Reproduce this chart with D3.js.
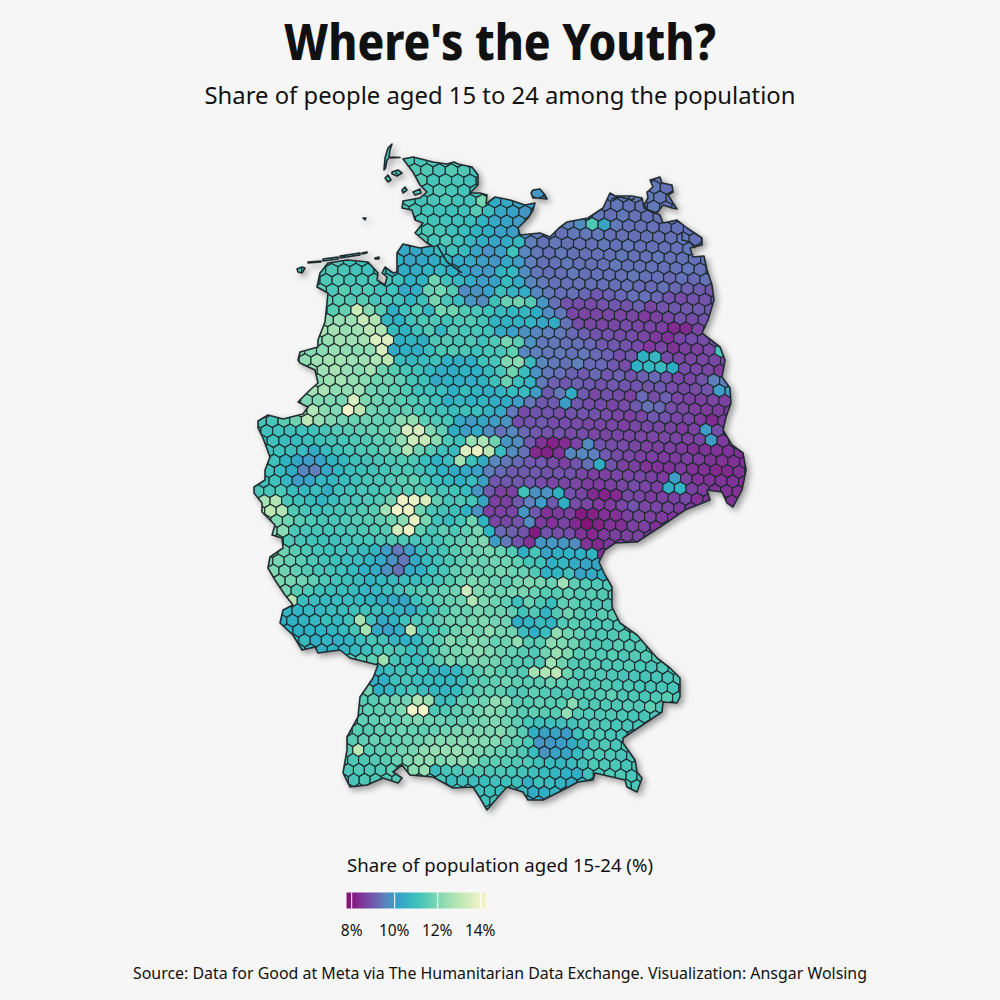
<!DOCTYPE html>
<html>
<head>
<meta charset="utf-8">
<title>Where's the Youth?</title>
<script src="https://cdnjs.cloudflare.com/ajax/libs/d3/7.8.5/d3.min.js"></script>
<style>
  body { margin: 0; background: #f6f6f6; }
  text { font-family: "Noto Sans", sans-serif; fill: #111; }
</style>
</head>
<body>
<div id="chart"></div>
<script>
// first grid column of every hex row
const rowStart = [-9,-8,-8,-7,-9,-9,-8,-8,-9,-9,-16,-16,-16,-15,-16,-15,-16,-16,-16,-18,-18,-16,-17,-17,-18,-18,-22,-22,-22,-21,-21,-21,-22,-22,-22,-22,-21,-20,-21,-20,-21,-21,-21,-21,-20,-20,-21,-20,-19,-18,-14,-12,-13,-13,-14,-14,-14,-14,-15,-15,-15,-15,-15,-3,-3,-2];

// share of people aged 15-24 (%), one list per hex row, north to south
const hexRows = [
[11.3,11.3,11.2,11.3,11.4,11.3,11.2],
[11.3,11.4,11.3,11.2,11.4,11.3,11.1],
[11.3,11.5,11.2,11.3,11.2,11.1,11.0],
[11.3,11.2,11.3,11.2,11.1,11.0,10.8,10.5,10.2,10.0,9.9,9.8,9.4,9.4,9.4,9.4,9.4,9.4,9.4,9.4,9.4,9.4,9.4],
[11.2,11.3,11.1,11.2,11.3,11.1,11.1,11.9,10.4,10.3,10.2,10.0,9.8,9.5,9.4,9.4,9.4,9.3,9.4,9.3,9.3,9.4,9.3,9.3],
[11.2,11.2,11.2,11.1,11.0,11.0,11.0,11.5,10.9,10.3,10.1,9.9,9.8,9.5,9.4,9.4,9.4,9.4,9.3,9.4,9.3,9.3,9.3,9.3,9.3],
[11.1,11.2,11.1,11.1,11.0,10.9,10.6,10.3,10.2,10.0,9.6,9.4,9.4,9.5,9.7,11.3,10.2,9.4,9.3,9.3,9.3,9.3,9.3,9.3],
[11.2,11.2,11.3,11.2,11.0,10.9,10.6,10.4,10.1,10.0,9.8,9.4,9.4,9.3,9.4,9.4,9.4,9.3,9.3,9.3,9.3,9.3,9.3,9.4,9.3],
[11.2,11.1,11.3,11.2,11.3,11.0,10.7,10.4,10.2,10.4,10.7,9.5,9.3,9.4,9.3,9.3,9.3,9.4,9.3,9.4,9.3,9.3,9.3,9.3,9.4,9.3,9.3],
[10.3,10.3,10.2,10.4,10.9,11.1,10.8,10.2,9.8,10.1,11.0,9.6,9.4,9.3,9.4,9.3,9.3,9.3,9.3,9.4,9.3,9.3,9.4,9.3,9.3,9.3,9.3],
[11.3,11.2,11.3,11.1,11.0,11.2,11.3,10.5,10.2,10.2,10.4,10.6,10.4,10.3,10.0,9.9,10.3,10.0,9.5,9.3,9.3,9.4,9.3,9.3,9.3,9.4,9.3,9.3,9.3,9.3,9.3,9.4,9.3,9.3],
[11.2,11.2,11.3,11.2,11.1,11.0,11.1,10.7,10.4,10.4,10.6,10.7,10.5,10.2,10.0,9.9,10.6,10.7,9.7,9.4,9.3,9.3,9.4,9.3,9.3,9.3,9.3,9.4,9.3,9.3,9.2,9.3,9.2,9.3,9.3],
[11.2,11.3,11.4,11.2,11.2,11.3,11.2,11.0,10.5,10.6,11.8,11.0,10.7,10.4,10.0,10.1,10.8,10.3,9.6,9.4,9.3,9.3,9.3,9.3,9.3,9.3,9.3,9.2,9.2,9.3,9.2,9.1,9.0,8.9],
[11.6,11.3,11.5,11.3,11.4,11.1,11.0,10.3,10.4,11.7,11.9,11.4,9.7,9.8,10.1,10.9,10.6,10.4,9.6,9.4,9.3,9.3,9.2,9.0,9.1,9.2,9.3,9.3,9.2,8.9,8.8,8.9,8.9,9.0],
[11.8,11.6,11.5,11.4,11.5,11.2,11.2,11.0,10.6,11.0,11.9,11.2,10.8,9.9,9.7,11.0,11.7,11.8,11.4,9.9,9.3,8.9,8.8,8.8,8.9,9.0,8.9,9.1,8.7,8.9,9.0,9.0,9.0,9.0,9.0],
[11.6,11.5,11.7,13.3,12.1,11.5,10.4,11.0,11.4,10.7,11.9,11.8,11.4,11.2,11.0,10.8,10.7,10.7,10.4,9.7,9.4,8.7,8.7,8.7,8.7,8.7,8.7,8.5,8.6,8.7,8.9,8.8,8.9,8.9],
[12.2,12.3,12.4,12.5,13.2,12.8,10.6,10.5,11.1,11.3,11.3,11.1,11.3,11.4,11.1,10.6,10.6,10.5,10.6,10.2,10.4,9.3,8.8,8.7,8.7,8.7,8.8,8.7,8.7,8.6,8.3,8.3,8.7,8.7,8.7],
[12.4,12.6,12.6,12.4,12.5,13.0,12.8,10.8,10.6,11.0,11.4,10.7,11.4,11.2,11.2,11.0,10.4,10.2,9.8,9.6,9.5,9.4,9.2,9.1,8.9,8.9,8.8,8.8,8.7,8.5,8.4,8.7,8.8,8.8,8.8],
[12.3,12.4,12.6,12.5,12.6,13.6,13.6,10.4,10.6,10.4,11.3,11.4,11.2,11.3,11.0,11.3,11.9,11.5,9.8,9.4,9.4,9.3,9.3,9.2,9.0,9.0,8.9,8.8,8.5,8.7,8.4,8.6,8.6,8.7],
[12.0,12.0,12.1,12.2,12.4,12.3,12.2,12.3,13.5,10.3,10.5,10.4,10.9,11.3,11.4,11.3,11.0,11.2,11.2,11.6,9.6,9.5,9.4,9.4,9.3,9.4,9.2,9.1,8.8,9.0,10.5,10.7,8.8,8.7,8.7,8.7,8.7,8.7],
[12.2,12.3,12.5,12.6,12.6,12.5,12.5,12.7,13.0,10.9,10.7,10.8,11.0,10.5,10.4,10.4,11.0,11.2,12.0,12.1,10.8,9.6,9.4,9.3,9.5,9.2,9.2,9.0,8.8,10.5,10.7,10.8,10.4,8.8,8.7,8.7,8.5,8.5],
[12.4,12.5,12.7,12.4,12.2,12.6,11.8,11.5,11.2,11.0,10.7,10.4,10.4,10.6,10.5,10.8,11.2,11.8,10.9,9.8,9.4,9.3,9.1,9.0,9.2,9.0,9.1,8.9,9.1,9.2,8.9,8.7,8.7,8.9,9.5,9.5],
[12.2,12.2,12.5,12.6,12.4,12.2,11.8,11.8,11.6,11.2,11.0,10.3,10.5,10.4,10.4,10.6,11.0,11.7,10.9,10.6,9.4,9.1,9.0,9.1,9.0,8.9,9.0,8.9,8.9,8.9,9.0,8.8,8.7,8.8,8.9,10.0,10.0],
[12.6,12.6,12.7,12.3,12.3,12.5,11.8,11.8,11.6,11.4,11.0,11.0,10.9,10.5,10.8,10.6,10.4,10.6,10.8,10.8,10.0,9.0,9.4,10.4,9.0,8.7,8.9,8.8,8.6,9.2,8.8,9.1,8.7,8.6,8.6,8.7,8.6,8.6],
[12.0,12.0,12.0,12.0,11.9,13.5,12.0,11.8,11.7,11.5,11.4,11.3,11.0,10.4,10.7,10.5,10.6,10.4,10.4,10.0,9.4,9.0,9.0,10.0,9.0,8.8,8.8,8.7,8.8,9.0,9.3,9.2,8.8,8.7,8.6,8.5,8.5,8.5,8.5],
[12.5,12.7,12.8,12.2,12.0,14.0,13.0,11.8,11.7,11.6,11.6,11.3,11.2,11.0,10.8,11.0,10.9,10.6,10.3,9.4,8.8,8.9,8.9,8.8,8.9,8.9,8.9,8.8,8.7,8.6,8.7,9.0,8.9,8.7,8.7,8.5,8.3,8.5,8.5],
[11.2,11.2,11.2,11.5,11.8,13.0,12.4,12.0,11.8,11.7,11.8,11.7,11.6,12.2,12.4,11.6,11.3,11.2,10.3,10.0,10.2,10.0,9.8,8.8,8.9,9.0,8.8,8.8,8.8,8.7,8.7,8.7,8.6,8.7,8.7,8.7,8.6,8.5,8.6,10.0,8.8,8.4],
[11.0,11.0,11.0,11.0,11.0,11.0,11.0,11.2,11.4,11.5,11.6,11.7,11.7,11.9,13.5,13.5,12.0,11.6,10.4,10.0,10.3,9.7,9.3,9.6,9.2,9.0,8.9,8.9,8.8,8.8,8.7,8.7,8.7,8.7,8.7,8.7,8.7,8.7,8.6,8.7,10.0,8.5,8.5],
[11.0,11.0,11.0,10.9,10.8,10.9,11.0,11.1,11.2,11.3,11.4,11.6,11.6,12.3,13.3,13.2,12.2,11.3,11.0,12.4,12.7,11.8,9.9,9.7,9.0,8.4,8.2,8.3,8.7,9.7,8.9,8.8,8.8,8.7,8.6,8.6,8.6,8.5,8.4,8.4,8.4,8.4,8.4],
[11.0,11.0,11.0,10.9,10.8,10.4,10.8,11.0,11.2,11.3,11.4,11.6,11.7,12.8,11.8,11.5,11.0,10.8,13.6,13.8,13.0,10.8,9.7,9.3,8.3,8.2,8.4,9.6,9.6,9.5,9.0,8.8,8.7,8.6,8.6,8.5,8.5,8.6,8.5,8.4,8.4,8.4,8.4],
[11.0,11.0,10.6,10.2,10.0,10.2,10.6,10.7,11.0,11.1,11.2,11.3,11.4,11.3,10.9,10.5,10.9,12.6,11.0,10.4,9.6,9.4,9.2,9.0,9.0,8.8,8.6,8.9,9.3,10.4,8.9,8.6,8.6,8.4,8.4,8.4,8.5,8.4,8.4,8.3,8.3,8.4,8.4],
[11.0,11.0,10.8,10.4,9.6,9.5,10.3,10.6,10.9,11.0,11.1,11.2,11.3,11.3,11.1,10.9,10.5,10.4,10.3,10.1,9.5,9.2,9.0,9.0,9.0,8.9,8.9,8.9,8.7,8.6,8.6,8.7,8.7,8.7,8.6,8.5,10.0,8.6,8.4,8.4,8.4,8.4,8.4,8.4],
[11.0,11.0,11.0,10.7,10.0,10.2,10.7,10.7,10.9,11.0,11.2,11.2,11.4,11.5,11.6,11.2,10.9,10.7,10.5,10.8,10.1,9.0,9.0,9.0,9.0,8.8,8.7,8.7,8.7,8.5,8.5,8.6,8.7,8.8,8.7,8.6,10.4,10.6,8.6,8.5,8.4,8.4,8.4,8.4],
[11.2,11.2,11.2,11.3,10.9,10.7,10.9,10.4,11.0,11.1,11.2,11.2,11.3,11.4,11.5,11.5,11.3,11.2,11.1,10.8,9.9,9.0,8.6,8.6,11.0,9.8,9.8,10.5,8.9,8.7,8.3,8.2,8.3,8.7,8.7,8.5,8.6,8.6,8.7,8.4,8.4,8.4,8.4,8.4,8.4],
[11.2,12.6,12.8,11.2,11.0,10.8,10.6,10.9,11.2,11.2,11.3,11.4,11.8,13.9,13.8,13.6,11.6,11.2,11.3,11.2,10.2,8.6,8.6,9.0,9.5,10.0,9.0,10.5,8.8,8.7,8.5,8.5,8.7,8.9,8.7,8.7,8.7,8.5,8.5,8.5,8.4,8.4,8.4],
[13.0,13.0,13.0,12.8,11.4,11.2,11.0,11.1,11.2,11.3,11.4,11.5,12.6,14.0,13.9,11.8,11.2,11.1,11.0,10.6,9.8,8.6,8.6,8.7,9.9,9.0,8.4,8.5,8.6,8.1,8.2,8.4,8.4,8.6,8.7,8.6,8.5,8.5,8.4,8.4,8.4,8.4,8.4,8.4],
[12.0,12.0,11.8,11.5,11.3,11.2,11.2,11.3,11.4,11.5,11.6,11.8,12.2,13.8,11.9,11.0,10.8,11.2,11.8,10.6,8.7,8.7,8.9,9.7,8.5,8.4,8.7,8.3,8.0,8.2,8.4,8.4,8.6,8.6,8.4,8.5,8.5],
[12.2,12.2,11.3,11.2,11.2,11.2,11.2,11.3,11.3,11.4,11.4,13.4,13.9,11.6,11.2,11.6,11.3,11.6,11.9,10.6,9.2,9.1,8.9,8.1,8.9,8.8,8.8,8.4,8.3,8.5,8.6,8.6,8.6,8.6,8.6],
[11.6,11.6,11.3,11.2,11.1,11.0,11.0,11.1,11.2,11.2,11.3,11.4,11.3,11.2,11.2,11.2,11.5,11.6,11.8,12.0,10.0,9.4,8.9,8.4,9.9,9.9,9.9,9.7,8.4,8.3,8.5,8.5,8.6,8.6],
[11.8,11.8,11.5,11.3,11.1,11.0,11.1,11.0,10.8,10.6,10.0,9.4,10.0,10.8,11.0,11.2,11.5,11.7,11.8,11.9,11.7,11.4,10.5,11.2,10.1,10.4,10.5,10.5,10.6,8.4,8.4],
[11.9,11.9,11.7,11.5,11.3,11.1,11.0,10.9,10.8,10.6,10.3,9.8,9.4,10.3,10.8,11.0,11.3,11.6,11.8,11.7,11.8,11.8,11.6,11.2,11.0,10.5,10.7,10.4,10.2,10.2,10.2],
[12.0,12.0,11.8,11.6,11.4,11.2,11.1,11.0,10.8,10.5,10.3,9.8,9.3,10.3,10.5,11.0,11.2,11.6,11.8,11.7,11.8,11.9,11.8,11.7,11.4,10.5,10.6,11.0,10.2,10.4,10.4,11.0],
[11.9,12.0,11.9,11.8,11.6,11.3,11.1,11.0,10.8,10.6,10.7,10.8,10.9,10.8,11.0,11.2,11.5,11.7,12.0,11.9,11.7,11.6,11.9,12.0,11.9,11.7,12.5,11.6,11.4,11.3,11.3,11.3],
[11.8,11.9,11.9,11.5,11.3,11.0,10.9,10.9,10.8,10.7,10.7,10.9,11.1,11.3,11.5,11.6,11.7,11.8,13.3,12.0,11.9,11.8,11.9,11.9,11.7,11.5,11.5,11.6,11.4,11.5,11.4,11.4],
[11.5,12.9,10.9,10.9,10.8,10.8,10.8,10.7,10.6,10.4,10.3,10.2,11.0,11.4,11.6,11.7,11.8,12.8,12.0,11.8,11.6,11.0,11.7,11.3,10.9,11.6,11.6,11.4,11.3,11.3,11.3],
[10.7,10.6,10.6,10.7,10.7,10.8,10.9,11.0,11.0,10.9,10.8,10.6,10.4,10.9,11.2,11.5,11.8,11.7,11.9,11.8,11.8,11.6,11.1,11.4,10.6,11.4,11.8,11.5,11.3,11.5,11.5],
[10.5,10.4,10.5,10.6,10.7,10.9,10.7,11.0,12.6,11.0,10.3,10.6,11.0,11.3,11.4,11.6,11.8,11.8,11.9,12.0,11.8,11.8,10.4,10.6,10.8,10.6,11.4,11.5,11.4,11.3,11.3,11.3,11.3],
[10.5,10.5,10.5,10.5,10.5,10.6,10.8,11.2,12.6,10.3,10.1,10.4,13.0,11.2,11.3,11.5,11.8,12.0,11.8,12.3,11.9,11.8,10.9,10.5,10.9,12.3,11.8,11.6,11.4,11.3,11.4,11.4,11.4],
[10.7,10.8,10.5,10.6,10.5,10.6,10.9,11.2,11.1,10.7,10.5,10.7,11.3,11.6,12.1,11.8,12.2,12.0,11.7,11.8,12.3,11.5,11.5,12.2,12.0,11.8,11.5,11.3,11.3,11.5,11.4,11.4],
[10.6,10.6,10.5,10.5,10.6,10.7,10.9,11.2,11.4,11.2,10.9,11.0,11.5,11.8,11.9,12.0,12.2,12.0,11.8,11.7,11.5,11.4,11.8,12.4,12.0,11.5,11.5,11.4,11.5,11.3,11.4,11.4,11.4],
[11.4,11.5,11.6,12.5,11.2,11.0,10.8,11.2,11.6,12.0,11.8,12.0,11.9,11.8,11.6,11.5,11.4,11.3,12.5,11.8,11.4,11.4,11.5,11.3,11.3,11.4,11.2,11.2,11.3],
[10.8,10.7,10.9,11.1,11.1,11.0,10.7,10.6,10.7,11.2,11.6,11.8,11.6,11.5,11.4,12.6,12.8,13.0,11.8,11.4,11.4,11.3,11.3,11.2,11.2,11.2,11.2,11.2,11.2],
[10.5,10.4,10.5,11.0,11.2,10.9,10.8,10.7,10.7,10.9,11.4,11.5,11.6,11.8,11.6,11.5,11.5,11.7,11.6,11.5,11.4,11.3,11.4,11.3,11.3,11.2,11.2,11.2,11.2,11.2],
[11.7,11.8,10.5,10.7,11.0,11.2,10.9,10.7,10.7,10.8,11.3,11.6,11.7,11.6,11.4,11.4,11.6,11.4,11.3,11.3,11.3,11.4,11.4,11.6,11.3,11.3,11.2,11.3,11.5,11.2,11.2],
[11.4,11.5,11.5,11.7,11.8,11.8,12.8,12.4,10.9,11.0,11.6,11.7,11.8,12.3,12.2,11.5,11.5,11.6,11.5,11.5,12.2,11.4,11.4,11.3,11.3,11.4,11.3,11.6,11.3,11.2,11.2],
[11.4,11.5,11.6,11.6,11.7,12.0,14.0,14.2,11.3,11.4,11.6,11.7,11.9,12.2,12.0,11.7,11.5,11.6,11.5,11.5,12.3,11.4,11.3,11.3,11.3,11.3,11.2,11.2,11.2,11.2],
[11.5,11.6,11.6,11.7,11.6,11.9,12.0,11.8,11.7,11.6,11.7,11.8,11.9,12.0,11.8,11.6,11.2,11.0,11.0,11.0,11.1,11.3,11.4,11.3,11.2,11.2,11.2,11.2],
[11.4,11.5,11.5,11.6,11.7,11.8,11.7,11.6,11.7,11.8,11.9,12.0,12.0,12.0,12.1,11.8,11.5,10.5,10.2,10.2,10.0,11.0,11.3,11.3,11.2,11.2,11.2],
[11.5,11.5,11.6,11.7,11.6,11.7,11.8,11.8,12.0,12.1,12.1,12.2,12.2,12.1,12.1,11.8,11.6,11.3,9.9,9.9,10.0,10.4,10.7,11.3,11.3,11.2,11.2],
[11.5,11.5,13.0,11.5,11.6,11.7,11.8,11.9,12.2,12.4,12.4,12.4,12.2,12.0,11.9,11.7,11.6,11.3,10.9,9.8,10.2,10.2,10.8,11.2,11.3,11.3,11.2,11.2],
[11.3,11.3,11.3,11.4,11.5,11.7,12.0,12.3,12.3,12.0,12.2,12.3,12.1,11.6,11.6,11.5,11.4,11.3,11.0,10.8,10.7,10.8,11.1,11.3,11.3,11.3,11.2,11.2],
[11.3,11.3,11.3,11.3,11.3,11.6,12.0,12.2,12.4,10.9,11.2,11.3,11.3,11.4,11.3,11.3,11.2,11.1,11.0,10.8,10.7,10.5,10.5,11.0,11.2,11.3,11.3,11.2,11.2],
[11.2,11.2,11.3,11.3,11.4,11.4,11.4,11.3,11.2,11.2,10.9,11.0,10.9,10.9,11.0,11.0,11.0,10.5,11.0,10.8,10.6,10.4,10.8,11.1,11.2,11.2,11.2,11.2,11.2],
[11.0,11.0,11.0,10.9,10.9,10.8,10.4,10.4,10.6,10.7,10.7,10.8,11.0,11.1,11.2,11.2,11.2],
[11.0,11.0,11.0,10.9,10.9,10.3,10.3,10.6],
[11.0,11.0,11.0]
];

// the hexes on the north of Ruegen, apart from the long rows
const ruegenRows = [1,1,2,2,2];
const ruegenCols = [12,13,11,12,13];
const ruegenValues = [9.4,9.3,9.4,9.4,9.3];

// mainland border, in map units
const border = [[153,19],[163,17],[183,22],[197,24],[204,22],[208,24],[222,27],[228,35],[228,45],[220,53],[230,53],[237,55],[236,64],[245,57],[260,60],[275,65],[285,63],[283,70],[278,78],[268,88],[270,95],[290,93],[300,97],[309,88],[317,82],[338,78],[353,68],[360,53],[365,56],[382,56],[392,58],[394,68],[410,75],[413,83],[427,80],[437,88],[452,98],[452,105],[440,108],[443,117],[454,116],[457,130],[462,145],[464,160],[458,180],[452,193],[470,207],[475,220],[472,237],[480,248],[481,263],[476,277],[473,290],[482,305],[493,313],[496,330],[492,350],[483,367],[477,363],[472,352],[457,350],[460,360],[435,370],[413,385],[387,402],[365,403],[355,410],[349,422],[355,435],[362,447],[362,467],[370,483],[387,495],[407,518],[420,528],[430,538],[430,557],[427,563],[413,562],[412,572],[397,582],[373,598],[373,603],[385,620],[387,632],[392,638],[387,652],[377,647],[375,640],[345,633],[343,640],[328,642],[313,650],[293,660],[278,660],[273,652],[257,647],[248,657],[237,670],[230,658],[223,647],[203,648],[183,637],[160,635],[152,625],[143,632],[152,638],[148,643],[133,638],[117,645],[100,647],[93,633],[97,610],[97,597],[108,577],[110,557],[123,538],[128,525],[100,518],[90,510],[68,513],[65,507],[52,510],[43,495],[30,483],[33,470],[43,465],[35,455],[25,440],[18,428],[20,417],[33,408],[32,398],[22,395],[25,385],[12,372],[12,363],[4,353],[4,347],[15,340],[15,330],[20,317],[13,298],[8,288],[8,281],[18,275],[33,279],[53,274],[58,267],[48,262],[60,250],[68,243],[65,230],[50,223],[48,220],[50,212],[68,207],[68,200],[75,182],[78,153],[67,147],[70,133],[78,123],[97,120],[118,122],[128,133],[127,140],[135,145],[137,137],[132,133],[135,127],[143,133],[147,132],[147,113],[153,104],[170,108],[182,106],[177,103],[165,93],[173,83],[165,80],[162,70],[152,68],[153,61],[170,58],[177,52],[170,45],[163,32]];

// islands, each with the value of its colour
const islands = [
  [[142,4],[138,8],[135,18],[134,30],[135.5,28],[137,20],[139,18],[150,17.5],[139,17],[140,10]],
  [[142,32],[148,30],[152,33],[147,36],[142,34]],
  [[135,38],[138,35],[141,40],[138,42]],
  [[152,50],[155,47],[157,50],[153,53]],
  [[163,52],[170,49],[171,53],[165,55]],
  [[113,78],[116,78],[115,80]],
  [[47,129],[52,127],[55,128],[52,133],[48,132]],
  [[58,122],[71,121],[71,122],[58,123]],
  [[73,119],[88,117],[88,119],[73,121]],
  [[90,116],[110,113],[110,115],[90,118]],
  [[112,113],[117,112],[117,113],[112,114]],
  [[125,118],[129,117],[129,119],[125,119]],
  [[281,53],[283,50],[290,49],[295,55],[297,59],[288,58],[283,58]],
  [[400,40],[410,37],[412,43],[422,45],[423,52],[418,55],[423,63],[427,69],[422,68],[413,65],[407,73],[398,70],[394,65],[398,58],[397,52],[403,47]]
];
const islandValues = [11.2,11.2,11.2,11.2,11.2,11.2,11.3,11.2,11.2,11.2,11.2,11.2,9.9,9.3];

// river mouth and lagoon lines
const innerLines = [
  [[187,105],[197,122],[212,133]],
  [[361,59],[370,57],[382,60],[385,58]],
  [[432,92],[432,100],[440,102],[445,108]]
];

// colour scale
const colorValues = [8,8.5,9,9.5,10,10.5,11,11.5,12,13,14];
const colorRange = ["#86137a","#7f3a9e","#7058ae","#5f80bc","#3e9cc6","#2fb0c4","#3fc0bb","#58cbb3","#7fd8b2","#bce7b4","#f2f3c8"];
const legendTicks = [8,10,12,14];

const color = d3.scaleLinear().domain(colorValues).range(colorRange).clamp(true);

const svg = d3.select("#chart").append("svg")
    .attr("width", 1000)
    .attr("height", 1000)
    .style("display", "block");

svg.append("rect").attr("width", 1000).attr("height", 1000).attr("fill", "#f6f6f6");

function addText(str, x, y, size, weight, len) {
    const t = svg.append("text")
        .attr("x", x).attr("y", y)
        .attr("text-anchor", "middle")
        .attr("font-size", size)
        .attr("font-weight", weight)
        .text(str);
    if (len) t.attr("textLength", len).attr("lengthAdjust", "spacingAndGlyphs");
    return t;
}

addText("Where's the Youth?", 500, 60, 50, 800, 432);
addText("Share of people aged 15 to 24 among the population", 500, 104, 24, 400, 591);
addText("Share of population aged 15-24 (%)", 500, 872, 18, 400, 306);
addText("Source: Data for Good at Meta via The Humanitarian Data Exchange. Visualization: Ansgar Wolsing", 500, 979, 15.5, 400, 734);

// map scales
const mapX = d3.scaleLinear().domain([0, 500]).range([250, 750]);
const mapY = d3.scaleLinear().domain([0, 680]).range([140, 820]);
const rowY = d3.scaleLinear().domain([0, 65]).range([160, 810]);
const rowDx = d3.scaleLinear().domain([170, 730]).range([12.3, 11.0]);

const line = d3.line().x(d => mapX(d[0])).y(d => mapY(d[1]));
const closed = d3.line().x(d => mapX(d[0])).y(d => mapY(d[1])).curve(d3.curveLinearClosed);

const defs = svg.append("defs");
const clip = defs.append("clipPath").attr("id", "land");
[border].concat(islands).forEach(p => clip.append("path").attr("d", closed(p)));

const map = svg.append("g").style("filter", "drop-shadow(3px 3px 3px rgba(0,0,0,0.38))");

// hexes, the grid sheets slightly across the map
const hexes = [];
function addHex(r, c, v) {
    const dx = rowDx(rowY(r));
    const off = r % 2 === 0 ? 0.5 : 0;
    const x = 500.7 + (c + off) * dx;
    const y = rowY(r) + 0.00009 * (x - 375) * (x - 375);
    hexes.push({x: x, y: y, dx: dx, v: v});
}
hexRows.forEach((vals, r) => vals.forEach((v, i) => addHex(r, rowStart[r] + i, v)));
ruegenValues.forEach((v, i) => addHex(ruegenRows[i], ruegenCols[i], v));

const land = map.append("g").attr("clip-path", "url(#land)");
land.append("path").attr("d", closed(border)).attr("fill", color(11.2));
land.selectAll("path.isle").data(islands).enter().append("path")
    .attr("class", "isle")
    .attr("d", closed)
    .attr("fill", (d, i) => color(islandValues[i]));

land.selectAll("path.hex").data(hexes).enter().append("path")
    .attr("class", "hex")
    .attr("d", d => {
        const w = d.dx / 2;
        return "M" + d.x + "," + (d.y - 6.67) + "L" + (d.x + w) + "," + (d.y - 3.33) + "L" + (d.x + w) + "," + (d.y + 3.33)
            + "L" + d.x + "," + (d.y + 6.67) + "L" + (d.x - w) + "," + (d.y + 3.33) + "L" + (d.x - w) + "," + (d.y - 3.33) + "Z";
    })
    .attr("fill", d => color(d.v))
    .attr("stroke", "#1d2b2e")
    .attr("stroke-width", 1.15);

// outlines on top
const outlines = map.append("g").attr("fill", "none").attr("stroke", "#222c30").attr("stroke-width", 1.6).attr("stroke-linejoin", "round");
outlines.append("path").attr("d", closed(border));
islands.forEach(p => outlines.append("path").attr("d", closed(p)));
innerLines.forEach(p => outlines.append("path").attr("d", line(p)));

// legend
const legendX = d3.scaleLinear().domain([8, 14]).range([351.7, 480.7]);
const grad = defs.append("linearGradient").attr("id", "legendGrad");
const legendMin = 7.76, legendMax = 14.25;
d3.range(0, 21).forEach(i => {
    const t = i / 20;
    grad.append("stop").attr("offset", t).attr("stop-color", color(legendMin + t * (legendMax - legendMin)));
});
svg.append("rect")
    .attr("x", legendX(legendMin)).attr("y", 892.5)
    .attr("width", legendX(legendMax) - legendX(legendMin)).attr("height", 16)
    .attr("fill", "url(#legendGrad)");
svg.selectAll("line.tick").data(legendTicks).enter().append("line")
    .attr("class", "tick")
    .attr("x1", d => legendX(d)).attr("x2", d => legendX(d))
    .attr("y1", 892.5).attr("y2", 908.5)
    .attr("stroke", "#fff").attr("stroke-width", 1);
svg.selectAll("text.tickLabel").data(legendTicks).enter().append("text")
    .attr("class", "tickLabel")
    .attr("x", d => legendX(d) - (d === 8 ? 0 : 0.5)).attr("y", 936)
    .attr("text-anchor", "middle")
    .attr("font-size", 15.5)
    .text(d => d + "%");
</script>
</body>
</html>
